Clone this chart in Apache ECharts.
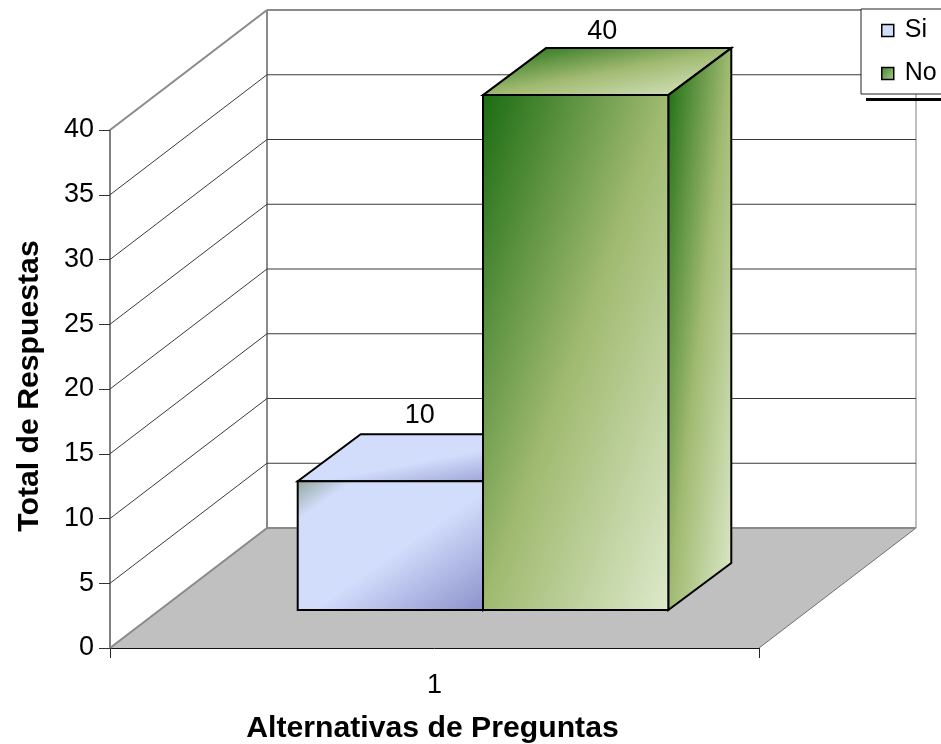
<!DOCTYPE html>
<html>
<head>
<meta charset="utf-8">
<style>html,body{margin:0;padding:0;background:#fff}#chart{width:941px;height:744px}</style>
<script src="https://cdn.jsdelivr.net/npm/echarts@6/dist/echarts.min.js"></script>
</head>
<body>
<div id="chart"></div>
<script>
const categories = ['1'];
const seriesNames = ['Si', 'No'];
const siValues = [10];
const noValues = [40];
const valueTicks = [0, 5, 10, 15, 20, 25, 30, 35, 40];

// Box projection: how far the back wall sits from the front plane, in pixels.
const WALL_DX = 157, WALL_DY = 120;
// Bars stand partway into the floor and have their own depth.
const BAR_INSET_DX = 48.5, BAR_INSET_DY = 38;
const BAR_DX = 63, BAR_DY = 47;
const BAR_BAND = 0.2855;
const BAR_SCALE = 0.994;

const FONT = '"Liberation Sans", Arial, sans-serif';
const GREEN_STOPS = [
  { offset: 0, color: '#1b6c12' },
  { offset: 0.5, color: '#a0ba70' },
  { offset: 1, color: '#dde9cb' }
];
const BLUE_STOPS = [
  { offset: 0, color: '#93a89f' },
  { offset: 0.15, color: '#d2ddfc' },
  { offset: 0.54, color: '#d2ddfc' },
  { offset: 1, color: '#8c92cb' }
];

// Corner-to-corner fill whose colour bands run along the opposite diagonal of the box.
function diagonalFill(x, y, w, h, stops) {
  const t = 2 * w * h / (w * w + h * h);
  return { type: 'linear', global: true, x: x, y: y, x2: x + h * t, y2: y + w * t, colorStops: stops };
}

function poly(points, fill) {
  return {
    type: 'polygon',
    shape: { points: points },
    style: { fill: fill, stroke: '#000', lineWidth: 2, lineJoin: 'miter' }
  };
}

function line(x1, y1, x2, y2, color, width) {
  return {
    type: 'line',
    shape: { x1: x1, y1: y1, x2: x2, y2: y2 },
    style: { stroke: color, lineWidth: width }
  };
}

function renderRoom(params, api) {
  const sys = params.coordSys;
  const v = api.value(1);
  const y = api.coord([0, v])[1];
  const x0 = sys.x, x1 = sys.x + sys.width;
  const bx0 = x0 + WALL_DX, bx1 = x1 + WALL_DX;
  const children = [];
  if (v === 0) {
    children.push({
      type: 'polygon',
      shape: { points: [[x0, y], [bx0, y - WALL_DY], [bx1, y - WALL_DY], [x1, y]] },
      style: { fill: '#c0c0c0' }
    });
    children.push(line(bx0, sys.y - WALL_DY, bx0, y - WALL_DY, '#8a8a8a', 2));
    children.push(line(bx1, sys.y - WALL_DY, bx1, y - WALL_DY, '#a8a8a8', 1.5));
    children.push(line(x1, y, bx1, y - WALL_DY, '#707070', 1));
    children.push(line(x0, y, bx0, y - WALL_DY, '#8a8a8a', 2));
    children.push(line(bx0, y - WALL_DY, bx1, y - WALL_DY, '#8a8a8a', 2));
  } else {
    const edge = v === valueTicks[valueTicks.length - 1];
    const color = edge ? '#8a8a8a' : '#3a3a3a';
    const width = edge ? 2 : 1;
    children.push(line(x0, y, bx0, y - WALL_DY, color, width));
    children.push(line(bx0, y - WALL_DY, bx1, y - WALL_DY, color, width));
  }
  return { type: 'group', children: children };
}

function renderBar(side, stops) {
  return function (params, api) {
    const value = api.value(1);
    const cx = api.coord([api.value(0), 0])[0];
    const floorY = api.coord([0, 0])[1];
    const topFront = api.coord([0, value])[1];
    const barW = api.size([1, 0])[0] * BAR_BAND;
    const left = cx + BAR_INSET_DX + (side < 0 ? -barW : 0);
    const right = left + barW;
    const bottom = floorY - BAR_INSET_DY;
    const top = bottom - (floorY - topFront) * BAR_SCALE;
    const children = [
      poly([[left, top], [left + BAR_DX, top - BAR_DY], [right + BAR_DX, top - BAR_DY], [right, top]],
        diagonalFill(left, top - BAR_DY, barW + BAR_DX, BAR_DY, stops)),
      poly([[right, top], [right + BAR_DX, top - BAR_DY], [right + BAR_DX, bottom - BAR_DY], [right, bottom]],
        diagonalFill(right, top - BAR_DY, BAR_DX, bottom - top + BAR_DY, stops)),
      poly([[left, top], [right, top], [right, bottom], [left, bottom]],
        diagonalFill(left, top, barW, bottom - top, stops)),
      {
        type: 'text',
        style: {
          x: left + (barW + BAR_DX) / 2 - (side > 0 ? 5 : 2), y: top - BAR_DY - (side > 0 ? 3 : 5),
          text: String(value), fill: '#000', font: '27px ' + FONT,
          align: 'center', verticalAlign: 'bottom'
        }
      }
    ];
    return { type: 'group', children: children };
  };
}

const chart = echarts.init(document.getElementById('chart'), null, { renderer: 'canvas' });
chart.setOption({
  animation: false,
  backgroundColor: '#ffffff',
  grid: { left: 110, top: 130, width: 649, height: 518, containLabel: false, outerBoundsMode: 'none' },
  legend: {
    left: 861, top: 9,
    orient: 'vertical',
    padding: [9, 40, 8, 20],
    itemWidth: 12, itemHeight: 12, itemGap: 18,
    backgroundColor: '#fff', borderColor: '#222', borderWidth: 1, borderRadius: 0,
    textStyle: { color: '#000', fontFamily: FONT, fontSize: 25, padding: [0, 0, 0, 6] },
    data: [
      { name: seriesNames[0], icon: 'rect',
        itemStyle: { color: '#d2ddfc', borderColor: '#000', borderWidth: 1.5 } },
      { name: seriesNames[1], icon: 'rect',
        itemStyle: {
          color: { type: 'linear', x: 0, y: 0, x2: 1, y2: 1,
            colorStops: [{ offset: 0, color: '#3f8430' }, { offset: 1, color: '#b4cc8c' }] },
          borderColor: '#000', borderWidth: 1.5 } }
    ]
  },
  xAxis: {
    type: 'category',
    data: categories,
    name: 'Alternativas de Preguntas',
    nameLocation: 'middle',
    nameGap: 66,
    nameTextStyle: { color: '#000', fontFamily: FONT, fontSize: 30.2, fontWeight: 'bold', lineHeight: 30, padding: [0, 4, 0, 0] },
    axisLine: { lineStyle: { color: '#111', width: 1 } },
    axisTick: { show: true, length: 10, lineStyle: { color: '#222', width: 1 } },
    axisLabel: { color: '#000', fontFamily: FONT, fontSize: 27, margin: 24 },
    splitLine: { show: false }
  },
  yAxis: {
    type: 'value',
    min: 0, max: 40, interval: 5,
    name: 'Total de Respuestas',
    nameLocation: 'middle',
    nameGap: 65,
    nameTextStyle: { color: '#000', fontFamily: FONT, fontSize: 30.2, fontWeight: 'bold', lineHeight: 30, padding: [0, 0, 0, 6] },
    axisLine: { show: true, lineStyle: { color: '#808080', width: 2 } },
    axisTick: { show: true, length: 11, lineStyle: { color: '#333', width: 1 } },
    axisLabel: { color: '#000', fontFamily: FONT, fontSize: 27, margin: 16 },
    splitLine: { show: false }
  },
  graphic: [
    { type: 'rect', z: 100, shape: { x: 866, y: 98, width: 75, height: 3 }, style: { fill: '#000' } }
  ],
  series: [
    {
      type: 'custom', name: 'room', silent: true, z: 1,
      renderItem: renderRoom,
      encode: { x: 0, y: 1 },
      data: valueTicks.map(function (v) { return [0, v]; })
    },
    {
      type: 'custom', name: seriesNames[0], z: 2,
      renderItem: renderBar(-1, BLUE_STOPS),
      encode: { x: 0, y: 1 },
      data: siValues.map(function (v, i) { return [i, v]; })
    },
    {
      type: 'custom', name: seriesNames[1], z: 3,
      renderItem: renderBar(1, GREEN_STOPS),
      encode: { x: 0, y: 1 },
      data: noValues.map(function (v, i) { return [i, v]; })
    }
  ]
});
</script>
</body>
</html>
